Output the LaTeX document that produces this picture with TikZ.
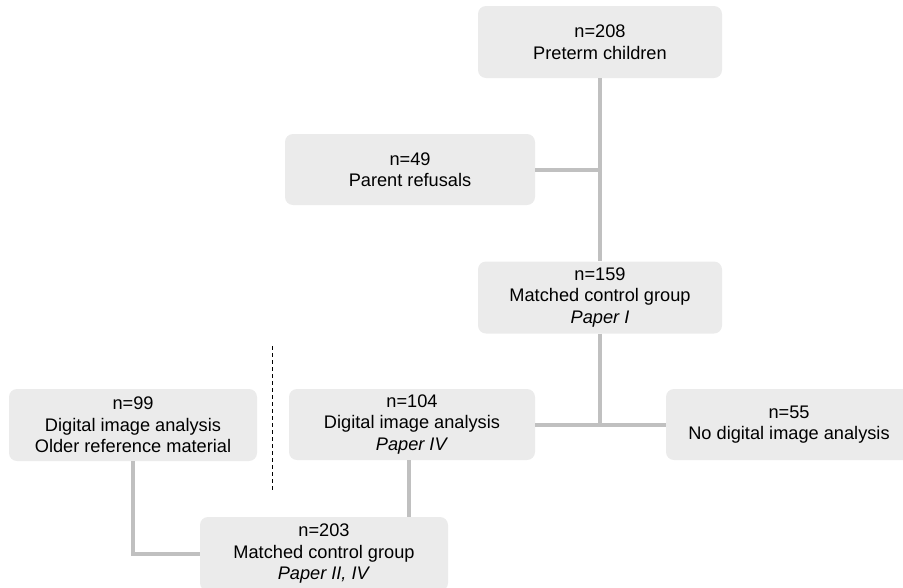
\documentclass[tikz,border=0pt]{standalone}
\usepackage{fontspec}
\setmainfont{Liberation Sans}
\definecolor{boxgray}{RGB}{235,235,235}
\definecolor{linegray}{RGB}{192,192,192}
\begin{document}
\begin{tikzpicture}[x=1pt,y=-1pt,
  box/.style={rectangle, rounded corners=8pt, fill=boxgray, draw=none, align=center,
    inner sep=0pt, font=\fontsize{18.2}{21.5}\selectfont},
  link/.style={draw=linegray, line width=4pt},
  sep/.style={draw=black, line width=1pt, dash pattern=on 4pt off 3pt}]
\useasboundingbox (0,0) rectangle (903,587);
\clip (0,0) rectangle (903,587);
\node[box, minimum width=244pt, minimum height=72pt] (n208) at (600,42) {n=208\\Preterm children};
\node[box, minimum width=250pt, minimum height=71pt] (n49) at (410,169.5) {n=49\\Parent refusals};
\node[box, minimum width=244pt, minimum height=72pt] (n159) at (600,297.5) {n=159\\Matched control group\\\textit{Paper I}};
\node[box, minimum width=246pt, minimum height=71pt] (n104) at (412,424.5) {n=104\\Digital image analysis\\\textit{Paper IV}};
\node[box, minimum width=246pt, minimum height=71pt] (n55) at (789,424.5) {n=55\\No digital image analysis};
\node[box, minimum width=248pt, minimum height=72pt] (n99) at (133,425) {n=99\\Digital image analysis\\Older reference material};
\node[box, minimum width=248pt, minimum height=74pt] (n203) at (324,554) {n=203\\Matched control group\\\textit{Paper II, IV}};
\coordinate (j) at (409,460);
\coordinate (d1) at (272,346);
\coordinate (d2) at (272,490);
\draw[link] (n208.south) -- (n159.north);
\draw[link] (n49.east) -- (n49.east -| n208.south);
\draw[link] (n159.south) -- (n159.south |- n104.east);
\draw[link] (n104.east) -- (n55.west);
\draw[link] (n99.south) |- (n203.west);
\draw[link] (n104.south -| j) -- (n203.north -| j);
\draw[sep] (d1) -- (d2);
\end{tikzpicture}
\end{document}
